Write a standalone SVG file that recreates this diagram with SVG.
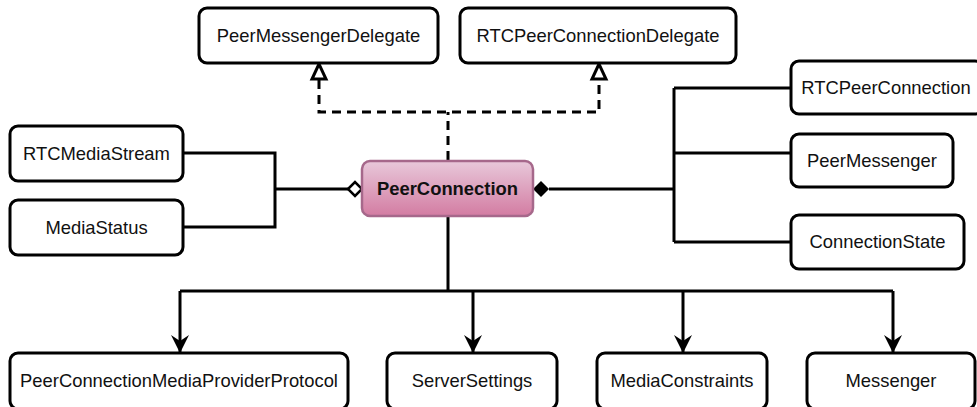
<svg xmlns="http://www.w3.org/2000/svg" width="977" height="407" viewBox="0 0 977 407">
<defs>
<linearGradient id="pcg" x1="0" y1="0" x2="0" y2="1">
<stop offset="0" stop-color="#e8c8da"/>
<stop offset="1" stop-color="#d37ca2"/>
</linearGradient>
<marker id="arr" viewBox="0 0 18 20" refX="17" refY="10" markerWidth="18" markerHeight="20" markerUnits="userSpaceOnUse" orient="auto">
<path d="M18,10 L0,1 L6,10 L0,19 Z" fill="#000"/>
</marker>
</defs>
<style>
.box{fill:#fff;stroke:#000;stroke-width:3}
.t{font-family:"Liberation Sans",Arial,sans-serif;font-size:18.4px;fill:#111;text-anchor:middle}
.b{font-weight:bold}
.ln{fill:none;stroke:#000;stroke-width:3}
.dash{fill:none;stroke:#000;stroke-width:3;stroke-dasharray:9 6}
</style>
<g id="connectors">
<path class="dash" d="M448,160 V112"/>
<path class="dash" d="M319,80 V112 H599 V80"/>
<polygon points="319,64 312,79 326,79" fill="#fff" stroke="#000" stroke-width="3" stroke-linejoin="miter"/>
<polygon points="599,64 592,79 606,79" fill="#fff" stroke="#000" stroke-width="3" stroke-linejoin="miter"/>
<path class="ln" d="M183,153 H275 V227 H183"/>
<path class="ln" d="M275,189 H348"/>
<polygon points="348,189 355,182 362,189 355,196" fill="#fff" stroke="#000" stroke-width="2.5"/>
<path class="ln" d="M549,189 H674"/>
<path class="ln" d="M674,88 V242"/>
<path class="ln" d="M674,88 H791 M674,153 H791 M674,242 H791"/>
<polygon points="533,189 541,181 549,189 541,197" fill="#000"/>
<path class="ln" d="M448,216 V291"/>
<path class="ln" d="M180,291 H893"/>
<path class="ln" d="M180,291 V352" marker-end="url(#arr)"/>
<path class="ln" d="M473,291 V352" marker-end="url(#arr)"/>
<path class="ln" d="M683,291 V352" marker-end="url(#arr)"/>
<path class="ln" d="M893,291 V352" marker-end="url(#arr)"/>
</g>
<g id="PeerMessengerDelegate"><rect class="box" x="199" y="8" width="239" height="55" rx="8"/><text class="t" x="318.5" y="42">PeerMessengerDelegate</text></g>
<g id="RTCPeerConnectionDelegate"><rect class="box" x="460" y="8" width="276" height="55" rx="8"/><text class="t" x="598" y="42">RTCPeerConnectionDelegate</text></g>
<g id="RTCMediaStream"><rect class="box" x="10" y="126" width="173" height="55" rx="8"/><text class="t" x="96.5" y="160">RTCMediaStream</text></g>
<g id="MediaStatus"><rect class="box" x="10" y="200" width="173" height="55" rx="8"/><text class="t" x="96.5" y="234">MediaStatus</text></g>
<g id="PeerConnection"><rect x="362" y="161" width="171" height="55" rx="8" fill="url(#pcg)" stroke="#a6688b" stroke-width="2.5"/><text class="t b" x="447.5" y="195">PeerConnection</text></g>
<g id="RTCPeerConnection"><rect class="box" x="791" y="61" width="192" height="53" rx="8"/><text class="t" x="886" y="94">RTCPeerConnection</text></g>
<g id="PeerMessenger"><rect class="box" x="791" y="134" width="162" height="53" rx="8"/><text class="t" x="872" y="167">PeerMessenger</text></g>
<g id="ConnectionState"><rect class="box" x="791" y="215" width="173" height="54" rx="8"/><text class="t" x="877.5" y="248">ConnectionState</text></g>
<g id="PeerConnectionMediaProviderProtocol"><rect class="box" x="10" y="353" width="338" height="56" rx="8"/><text class="t" x="179" y="387">PeerConnectionMediaProviderProtocol</text></g>
<g id="ServerSettings"><rect class="box" x="387" y="353" width="170" height="56" rx="8"/><text class="t" x="472" y="387">ServerSettings</text></g>
<g id="MediaConstraints"><rect class="box" x="597" y="353" width="170" height="56" rx="8"/><text class="t" x="682" y="387">MediaConstraints</text></g>
<g id="Messenger"><rect class="box" x="807" y="353" width="168" height="56" rx="8"/><text class="t" x="891" y="387">Messenger</text></g>
</svg>
